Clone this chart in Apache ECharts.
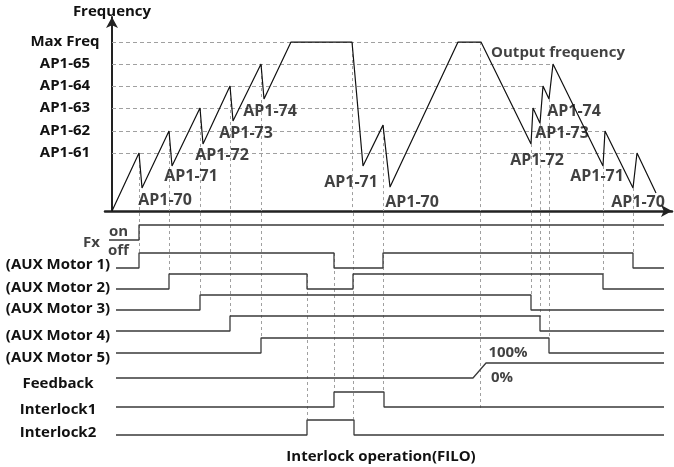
<!DOCTYPE html>
<html>
<head>
<meta charset="utf-8">
<script src="https://cdn.jsdelivr.net/npm/echarts@6/dist/echarts.min.js"></script>
<style>
  html, body { margin: 0; padding: 0; background: #fff; }
  #main { width: 674px; height: 467px; }
</style>
</head>
<body>
<div id="main"></div>
<script>
const chart = echarts.init(document.getElementById('main'));

// output frequency profile (time in s, frequency in Hz)
const freqTime = [0, 2.7, 3.0, 5.7, 6.0, 8.8, 9.1, 11.8, 12.1, 14.9, 15.2, 17.9,
  24.0, 25.1, 27.1, 27.8, 34.6, 36.9,
  41.9, 42.1, 42.8, 43.1, 43.7, 44.1, 49.1, 49.3, 52.1, 52.5, 54.4];
const freqHz = [0, 20.6, 8.2, 28.4, 16.0, 36.6, 23.8, 44.4, 32.0, 52.2, 39.8, 60,
  60, 16.0, 30.5, 8.5, 60, 60,
  23.8, 36.6, 31.2, 44.4, 39.8, 52.2, 16.0, 28.4, 8.2, 20.6, 6.4];

// y axis levels
const levelNames = ['AP1-61', 'AP1-62', 'AP1-63', 'AP1-64', 'AP1-65', 'Max Freq'];
const levelHz = [20.6, 28.4, 36.6, 44.4, 52.2, 60];
const levelLineEnd = [52.6, 49.5, 42.6, 43.3, 44.1, 36.9];

// vertical guides in the frequency part (time, top Hz)
const guideTime = [2.7, 5.7, 8.8, 11.8, 14.9, 24.0, 27.1, 36.8, 41.9, 42.8, 43.7, 49.1, 52.1];
const guideHz = [20.6, 28.4, 36.6, 44.4, 52.2, 60, 30.5, 60, 23.8, 31.2, 39.8, 16.0, 8.2];

// vertical guides in the signal part (time, from / to lane position)
const guideLowTime = [2.7, 5.7, 8.8, 11.8, 14.9, 19.5, 22.2, 24.1, 27.1, 36.8, 41.9, 42.8, 43.7, 49.1, 52.1];
const guideLowFrom = [0, 0, 0, 0, 0, 61, 40, 0, 0, 0, 0, 0, 0, 0, 0];
const guideLowTo = [40, 61, 83, 104, 124, 206, 179, 206, 179, 197, 83, 104, 124, 61, 40];

// parameter annotations on the frequency curve
const annText = ['AP1-70', 'AP1-71', 'AP1-72', 'AP1-73', 'AP1-74', 'AP1-71', 'AP1-70',
  'Output frequency', 'AP1-74', 'AP1-73', 'AP1-72', 'AP1-71', 'AP1-70'];
const annTime = [5.3, 7.9, 11.0, 13.4, 15.8, 23.9, 30.0, 44.6, 46.2, 45.0, 42.5, 48.5, 52.6];
const annHz = [3.9, 12.1, 19.9, 27.7, 35.5, 10.3, 3.2, 56.1, 35.5, 27.7, 17.8, 12.1, 3.2];

// digital signals: switching times, starting off
const signalNames = ['Fx', '(AUX Motor 1)', '(AUX Motor 2)', '(AUX Motor 3)', '(AUX Motor 4)',
  '(AUX Motor 5)', 'Feedback', 'Interlock1', 'Interlock2'];
const fxEdges = [2.7];
const aux1Edges = [2.7, 22.2, 27.1, 52.1];
const aux2Edges = [5.7, 19.5, 24.1, 49.1];
const aux3Edges = [8.8, 41.9];
const aux4Edges = [11.8, 42.8];
const aux5Edges = [14.9, 43.7];
const feedbackRamp = [36.1, 37.4]; // 0% -> 100%
const il1Edges = [22.2, 27.2];
const il2Edges = [19.5, 24.2];

// lane layout of the lower part
const laneLow = [27, 55, 76, 97, 118, 140, 165, 194, 222];
const laneLabelY = [52, 75, 96, 123, 145, 171, 197, 220];
const laneHigh = 15;
const tStart = 0.4, tEnd = 55.2;

const FONT = 'Open Sans';
const FS = 15;
const FW = 'bold';

function stepLine(edges, lane, t0) {
  const low = laneLow[lane], high = low - laneHigh;
  let s = 0;
  const pts = [[t0, low]];
  edges.forEach(function (e) {
    pts.push([e, s ? high : low]);
    s = 1 - s;
    pts.push([e, s ? high : low]);
  });
  pts.push([tEnd, s ? high : low]);
  return pts;
}

const signalData = [
  stepLine(fxEdges, 0, -0.3),
  stepLine(aux1Edges, 1, tStart),
  stepLine(aux2Edges, 2, tStart),
  stepLine(aux3Edges, 3, tStart),
  stepLine(aux4Edges, 4, tStart),
  stepLine(aux5Edges, 5, tStart),
  [[tStart, laneLow[6]], [feedbackRamp[0], laneLow[6]], [feedbackRamp[1], laneLow[6] - laneHigh], [tEnd, laneLow[6] - laneHigh]],
  stepLine(il1Edges, 7, tStart),
  stepLine(il2Edges, 8, tStart)
];

const dashH = { color: '#a0a0a0', width: 1, type: [4, 3], opacity: 1 };
const dashV = { color: '#a0a0a0', width: 1, type: [3, 3], opacity: 1 };

const series = [];

// dashed level lines
series.push({
  type: 'lines', coordinateSystem: 'cartesian2d', xAxisIndex: 0, yAxisIndex: 0,
  silent: true, z: 1, lineStyle: dashH,
  data: levelHz.map(function (h, i) { return { coords: [[0, h], [levelLineEnd[i], h]] }; })
});
series.push({
  type: 'lines', coordinateSystem: 'cartesian2d', xAxisIndex: 0, yAxisIndex: 0,
  silent: true, z: 1, lineStyle: dashV,
  data: guideTime.map(function (t, i) { return { coords: [[t, guideHz[i]], [t, 0]] }; })
});
series.push({
  type: 'lines', coordinateSystem: 'cartesian2d', xAxisIndex: 1, yAxisIndex: 1,
  silent: true, z: 1, lineStyle: dashV,
  data: guideLowTime.map(function (t, i) { return { coords: [[t, guideLowFrom[i]], [t, guideLowTo[i]]] }; })
});

// output frequency
series.push({
  type: 'line', xAxisIndex: 0, yAxisIndex: 0, z: 3,
  showSymbol: false, symbol: 'none',
  lineStyle: { color: '#111', width: 1.2 },
  data: freqTime.map(function (t, i) { return [t, freqHz[i]]; })
});

// annotations on frequency part
series.push({
  type: 'scatter', xAxisIndex: 0, yAxisIndex: 0, z: 4, symbolSize: 0, clip: false,
  label: {
    show: true, position: 'inside', color: '#111',
    fontFamily: FONT, fontWeight: FW, fontSize: 16,
    formatter: function (p) { return p.name; }
  },
  data: annText.map(function (n, i) {
    const item = { name: n, value: [annTime[i], annHz[i]] };
    if (n.length > 8) item.label = { fontSize: FS };
    return item;
  })
});

// signals
signalData.forEach(function (d, i) {
  series.push({
    type: 'line', xAxisIndex: 1, yAxisIndex: 1, z: 3,
    name: signalNames[i], showSymbol: false, symbol: 'none',
    lineStyle: { color: '#3a3a3a', width: 1.3 },
    data: d
  });
});

// small texts in signal part
const sigText = ['Fx', 'on', 'off', '100%', '0%'];
const sigTextTime = [-2.05, 0.65, 0.65, 39.6, 39.0];
const sigTextY = [30, 19, 38, 140, 165];
series.push({
  type: 'scatter', xAxisIndex: 1, yAxisIndex: 1, z: 4, symbolSize: 0, clip: false,
  label: {
    show: true, position: 'inside', color: '#111',
    fontFamily: FONT, fontWeight: FW, fontSize: FS,
    formatter: function (p) { return p.name; }
  },
  data: sigText.map(function (n, i) { return { name: n, value: [sigTextTime[i], sigTextY[i]] }; })
});

const option = {
  animation: false,
  backgroundColor: '#fff',
  grid: [
    { left: 105, right: 2, top: 17, bottom: 256 },
    { left: 105, right: 2, top: 213, bottom: 27 }
  ],
  xAxis: [
    {
      type: 'value', gridIndex: 0, min: -0.7, max: 56.0,
      axisLine: { show: true, onZero: true, symbol: ['none', 'arrow'], symbolSize: [9, 11],
        lineStyle: { color: '#222', width: 2.5 } },
      axisTick: { show: false }, axisLabel: { show: false }, splitLine: { show: false }
    },
    {
      type: 'value', gridIndex: 1, min: -0.7, max: 56.0, show: false
    }
  ],
  yAxis: [
    {
      type: 'value', gridIndex: 0, min: 0, max: 68.9,
      name: 'Frequency', nameLocation: 'end', nameGap: -2,
      nameTextStyle: { color: '#111', fontFamily: FONT, fontWeight: FW, fontSize: FS },
      axisLine: { show: true, onZero: true, symbol: ['none', 'arrow'], symbolSize: [9, 11],
        lineStyle: { color: '#222', width: 2 } },
      axisTick: { show: false }, splitLine: { show: false },
      axisLabel: {
        show: true, customValues: levelHz, margin: 40, align: 'center',
        color: '#111', fontFamily: FONT, fontWeight: FW, fontSize: FS,
        formatter: function (v) { return levelNames[levelHz.indexOf(v)]; }
      }
    },
    {
      type: 'value', gridIndex: 1, min: 0, max: 227, inverse: true,
      axisLine: { show: false, onZero: false }, axisTick: { show: false }, splitLine: { show: false },
      axisLabel: {
        show: true, customValues: laneLabelY, margin: 47, align: 'center',
        color: '#111', fontFamily: FONT, fontWeight: FW, fontSize: FS,
        formatter: function (v) { return signalNames[laneLabelY.indexOf(v) + 1]; }
      }
    }
  ],
  graphic: [{
    type: 'text', x: 381, y: 457,
    style: {
      text: 'Interlock operation(FILO)', align: 'center', verticalAlign: 'middle',
      fill: '#111', font: 'bold 15px "Open Sans"'
    }
  }],
  series: series
};

chart.setOption(option);
</script>
</body>
</html>
